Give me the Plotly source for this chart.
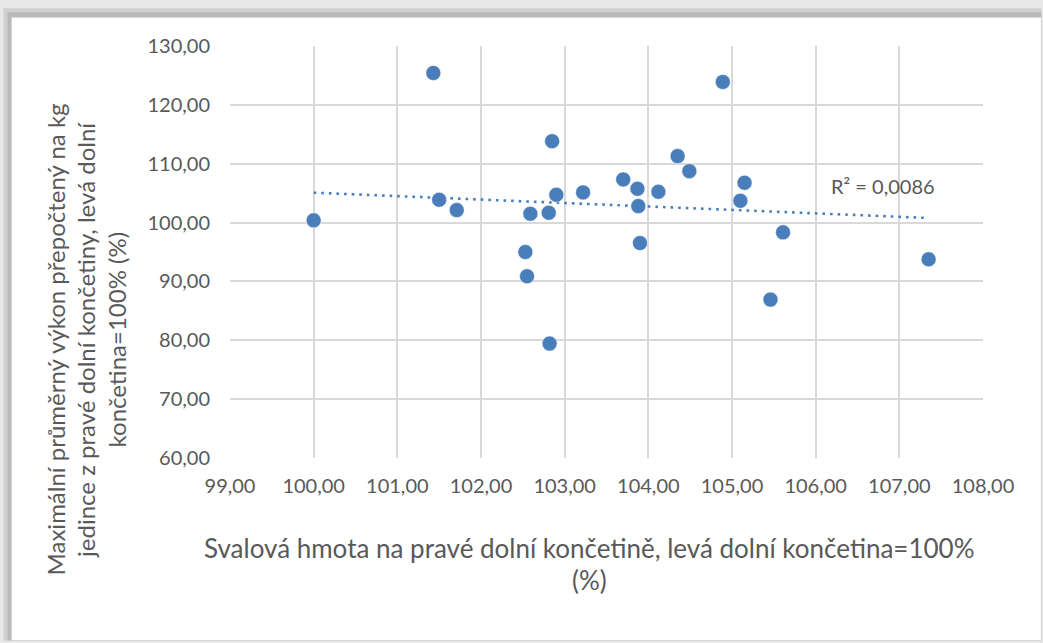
import numpy as np
import plotly.graph_objects as go

# Muscle mass on the right lower limb (left limb = 100 %)
svalova_hmota = [
    100.00, 101.43, 101.50, 101.71, 102.59, 102.81, 102.53, 102.55, 102.82,
    102.85, 102.90, 103.22, 103.70, 103.87, 103.88, 103.90, 104.12, 104.35,
    104.49, 104.89, 105.15, 105.10, 105.61, 105.46, 107.35,
]
# Max. mean power per kg, right lower limb (left limb = 100 %)
vykon = [
    100.38, 125.42, 103.87, 102.12, 101.50, 101.67, 95.00, 90.88, 79.44,
    113.83, 104.72, 105.13, 107.33, 105.74, 102.80, 96.52, 105.23, 111.29,
    108.74, 123.90, 106.76, 103.70, 98.34, 86.91, 93.76,
]
x_ticks = [99, 100, 101, 102, 103, 104, 105, 106, 107, 108]
y_ticks = [60, 70, 80, 90, 100, 110, 120, 130]
r2_label = "R² = 0,0086"

x_title_lines = [
    "Svalová hmota na pravé dolní končetině, levá dolní končetina=100%",
    "(%)",
]
y_title_lines = [
    "Maximální průměrný výkon přepočtený na kg",
    "jedince z pravé dolní končetiny, levá dolní",
    "končetina=100% (%)",
]

W, H = 1043, 643
L, R, T, B = 230.3, 982.7, 45.7, 458.3  # plot area in pixels


def px(xp):
    return (xp - L) / (R - L)


def py(yp):
    return (B - yp) / (B - T)


xs = np.array(svalova_hmota)
ys = np.array(vykon)
slope, intercept = np.polyfit(xs, ys, 1)
trend_x = np.array([xs.min(), xs.max()])
trend_y = slope * trend_x + intercept

BLUE = "#4A7EBB"
TXT = "#595959"
FONT = "Lato"

fig = go.Figure()
fig.add_trace(go.Scatter(
    x=trend_x, y=trend_y, mode="lines",
    line=dict(color=BLUE, width=2.6, dash="2.6px,5px"),
    hoverinfo="skip", showlegend=False,
))
fig.add_trace(go.Scatter(
    x=svalova_hmota, y=vykon, mode="markers",
    marker=dict(color=BLUE, size=15, line=dict(color="rgba(255,255,255,0.5)", width=1)),
    showlegend=False,
))

shapes = [
    # soft shadow around the chart card
    dict(type="rect", xref="paper", yref="paper", layer="below",
         x0=px(4), x1=px(1041), y0=py(641), y1=py(8),
         fillcolor="#cfcfcf", line=dict(width=0)),
    dict(type="rect", xref="paper", yref="paper", layer="below",
         x0=px(8), x1=px(1041), y0=py(641), y1=py(12),
         fillcolor="#b9b9b9", line=dict(width=0)),
    # chart card
    dict(type="rect", xref="paper", yref="paper", layer="below",
         x0=px(12), x1=px(1041), y0=py(641), y1=py(17),
         fillcolor="white", line=dict(color="#d4d4d4", width=1)),
]

annotations = [
    dict(text=r2_label, xref="paper", yref="paper", x=px(883), y=py(186),
         xanchor="center", yanchor="middle", showarrow=False,
         font=dict(family=FONT, size=20, color=TXT)),
]
for line, yc in zip(x_title_lines, [548, 580]):
    annotations.append(dict(
        text=line, xref="paper", yref="paper", x=px(590), y=py(yc),
        xanchor="center", yanchor="middle", showarrow=False,
        font=dict(family=FONT, size=26, color=TXT)))
for line, xc in zip(y_title_lines, [56, 86.5, 117]):
    annotations.append(dict(
        text=line, xref="paper", yref="paper", x=px(xc), y=py(340),
        xanchor="center", yanchor="middle", showarrow=False, textangle=-90,
        font=dict(family=FONT, size=24, color=TXT)))

axis_common = dict(
    showgrid=True, gridcolor="#d9d9d9", gridwidth=1.5,
    showline=False, zeroline=False, ticks="",
    tickformat=".2f", tickfont=dict(family=FONT, size=20, color=TXT),
)

fig.update_layout(
    width=W, height=H,
    margin=dict(l=L, r=W - R, t=T, b=H - B),
    paper_bgcolor="#e8e8e8", plot_bgcolor="white",
    separators=", ",
    shapes=shapes, annotations=annotations,
    xaxis=dict(range=[99, 108], tickvals=x_ticks, ticklabelstandoff=14, **axis_common),
    yaxis=dict(range=[60, 130], tickvals=y_ticks, ticklabelstandoff=19, **axis_common),
)

fig.write_html("out.html")
